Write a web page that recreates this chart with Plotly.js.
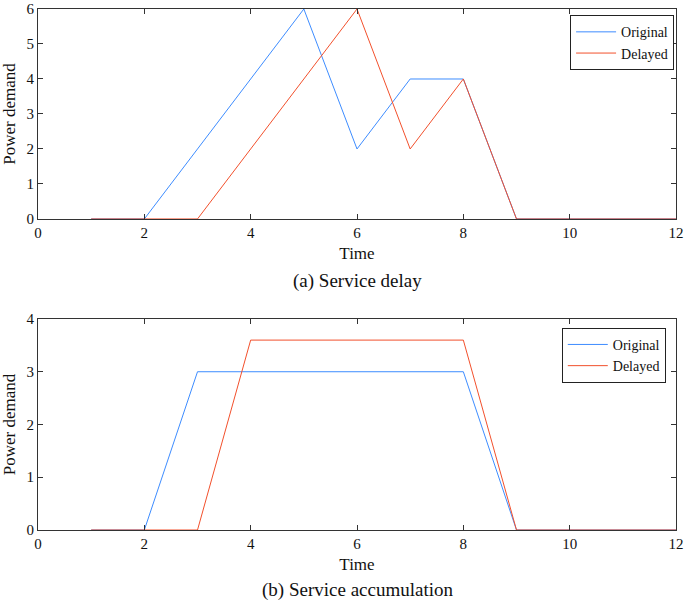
<!DOCTYPE html>
<html>
<head>
<meta charset="utf-8">
<script src="https://cdn.plot.ly/plotly-3.0.1.min.js"></script>
<style>html,body{margin:0;padding:0;background:#fff;}#chart{width:685px;height:601px;}</style>
</head>
<body>
<div id="chart"></div>
<script>
// Data
const time = [1, 2, 3, 4, 5, 6, 7, 8, 9, 10, 11, 12];
const delayOriginal = [0, 0, 2, 4, 6, 2, 4, 4, 0, 0, 0, 0];
const delayDelayed  = [0, 0, 0, 2, 4, 6, 2, 4, 0, 0, 0, 0];
const accumOriginal = [0, 0, 3, 3, 3, 3, 3, 3, 0, 0, 0, 0];
const accumDelayed  = [0, 0, 0, 3.6, 3.6, 3.6, 3.6, 3.6, 0, 0, 0, 0];
const seriesNames = ["Original", "Delayed"];
const panelTitles = ["(a) Service delay", "(b) Service accumulation"];
const xTickVals = [0, 2, 4, 6, 8, 10, 12];

const blue = "#3d8cff", red = "#f2502c";
const font = "Liberation Serif, Times New Roman, serif";

const traces = [
  {x: time, y: delayOriginal, name: seriesNames[0], mode: "lines", line: {color: blue, width: 1}, xaxis: "x", yaxis: "y", legend: "legend"},
  {x: time, y: delayDelayed, name: seriesNames[1], mode: "lines", line: {color: red, width: 1}, xaxis: "x", yaxis: "y", legend: "legend"},
  {x: time, y: accumOriginal, name: seriesNames[0], mode: "lines", line: {color: blue, width: 1}, xaxis: "x2", yaxis: "y2", legend: "legend2"},
  {x: time, y: accumDelayed, name: seriesNames[1], mode: "lines", line: {color: red, width: 1}, xaxis: "x2", yaxis: "y2", legend: "legend2"}
];

const axisCommon = {
  showline: true, linecolor: "#333", linewidth: 1, mirror: "ticks",
  ticks: "inside", ticklen: 5, tickcolor: "#333", tickwidth: 1,
  showgrid: false, zeroline: false,
  tickfont: {family: font, size: 15, color: "#111"}
};
const xCommon = Object.assign({}, axisCommon, {range: [0, 12], tickvals: xTickVals, title: {text: "Time", font: {family: font, size: 17, color: "#111"}, standoff: 7}});

const legendCommon = {
  bgcolor: "#fff", bordercolor: "#222", borderwidth: 1,
  font: {family: font, size: 14, color: "#111"},
  xanchor: "right", yanchor: "top", itemwidth: 40, tracegroupgap: 0
};

const layout = {
  width: 685, height: 601,
  margin: {l: 38, r: 9, t: 9, b: 71},
  paper_bgcolor: "#fff", plot_bgcolor: "#fff",
  font: {family: font},
  showlegend: true,
  xaxis: Object.assign({}, xCommon, {anchor: "y", domain: [0, 1]}),
  yaxis: Object.assign({}, axisCommon, {anchor: "x", domain: [0.597, 1], range: [0, 6], dtick: 1,
    title: {text: "Power demand", font: {family: font, size: 17, color: "#111"}, standoff: 6}}),
  xaxis2: Object.assign({}, xCommon, {anchor: "y2", domain: [0, 1]}),
  yaxis2: Object.assign({}, axisCommon, {anchor: "x2", domain: [0, 0.405], range: [0, 4], dtick: 1,
    title: {text: "Power demand", font: {family: font, size: 17, color: "#111"}, standoff: 6}}),
  legend: Object.assign({}, legendCommon, {x: 0.997, y: 0.988}),
  legend2: Object.assign({}, legendCommon, {x: 0.984, y: 0.388}),
  annotations: [
    {text: panelTitles[0], xref: "paper", yref: "paper", x: 0.5, y: 0.478, xanchor: "center", yanchor: "middle", showarrow: false, font: {family: font, size: 19, color: "#111"}},
    {text: panelTitles[1], xref: "paper", yref: "paper", x: 0.5, y: -0.115, xanchor: "center", yanchor: "middle", showarrow: false, font: {family: font, size: 19, color: "#111"}}
  ]
};

Plotly.newPlot("chart", traces, layout, {displayModeBar: false, staticPlot: true});
</script>
</body>
</html>
